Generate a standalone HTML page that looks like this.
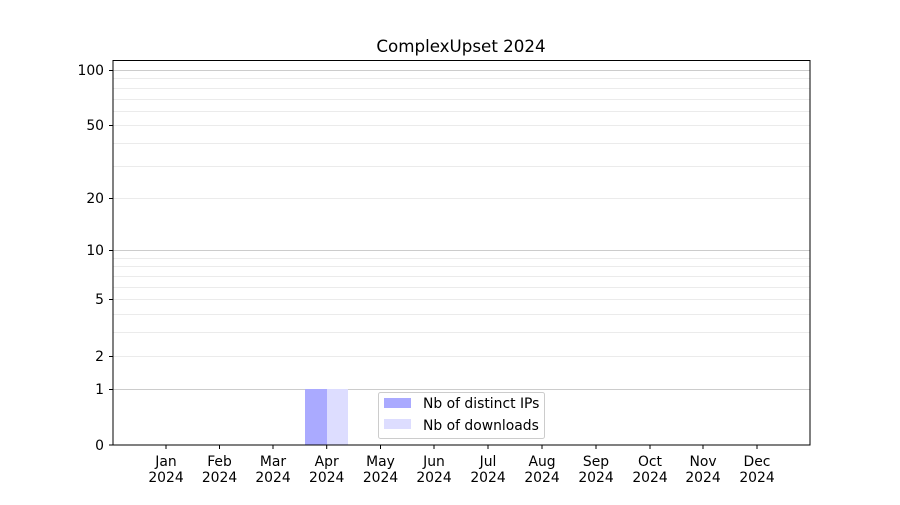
<!DOCTYPE html>
<html><head><meta charset="utf-8"><style>
body{margin:0;background:#fff}
svg text{font-family:"DejaVu Sans","Liberation Sans",sans-serif;font-size:13.9px;fill:#000}
svg text.title{font-size:16.7px}
</style></head><body>
<svg width="900" height="500" xmlns="http://www.w3.org/2000/svg">
<rect width="900" height="500" fill="#fff"/>
<text class="title" x="461" y="52" text-anchor="middle">ComplexUpset 2024</text>
<g stroke="#ebebeb" stroke-width="1">
<line x1="113" x2="810" y1="78.5" y2="78.5"/><line x1="113" x2="810" y1="88.5" y2="88.5"/>
<line x1="113" x2="810" y1="99.5" y2="99.5"/><line x1="113" x2="810" y1="111.5" y2="111.5"/>
<line x1="113" x2="810" y1="125.5" y2="125.5"/><line x1="113" x2="810" y1="143.5" y2="143.5"/>
<line x1="113" x2="810" y1="166.5" y2="166.5"/><line x1="113" x2="810" y1="198.5" y2="198.5"/>
<line x1="113" x2="810" y1="258.5" y2="258.5"/><line x1="113" x2="810" y1="266.5" y2="266.5"/>
<line x1="113" x2="810" y1="276.5" y2="276.5"/><line x1="113" x2="810" y1="287.5" y2="287.5"/>
<line x1="113" x2="810" y1="299.5" y2="299.5"/><line x1="113" x2="810" y1="314.5" y2="314.5"/>
<line x1="113" x2="810" y1="332.5" y2="332.5"/><line x1="113" x2="810" y1="356.5" y2="356.5"/>
</g>
<g stroke="#cccccc" stroke-width="1">
<line x1="113" x2="810" y1="70.5" y2="70.5"/><line x1="113" x2="810" y1="250.5" y2="250.5"/>
<line x1="113" x2="810" y1="389.5" y2="389.5"/>
</g>
<rect x="305" y="389" width="22" height="56" fill="#aaaaff"/>
<rect x="327" y="389" width="21" height="56" fill="#ddddff"/>
<rect x="113" y="60.5" width="697" height="384.5" fill="none" stroke="#000" stroke-width="1"/>
<g stroke="#000">
<line x1="109" x2="113" y1="70.5" y2="70.5"/><line x1="109" x2="113" y1="125.5" y2="125.5"/>
<line x1="109" x2="113" y1="198.5" y2="198.5"/><line x1="109" x2="113" y1="250.5" y2="250.5"/>
<line x1="109" x2="113" y1="299.5" y2="299.5"/><line x1="109" x2="113" y1="356.5" y2="356.5"/>
<line x1="109" x2="113" y1="389.5" y2="389.5"/><line x1="109" x2="113" y1="445" y2="445"/>
</g>
<g text-anchor="end">
<text x="104" y="75">100</text><text x="104" y="130">50</text><text x="104" y="203">20</text>
<text x="104" y="255">10</text><text x="104" y="304">5</text><text x="104" y="361">2</text>
<text x="104" y="394">1</text><text x="104" y="450">0</text>
</g>
<g id="months" text-anchor="middle"></g>
<g stroke="#000" id="xt"></g>
<rect x="378.5" y="392.5" width="166" height="46" rx="2" fill="#fff" fill-opacity="0.8" stroke="#cccccc"/>
<rect x="384" y="398" width="27" height="10" fill="#aaaaff"/>
<rect x="384" y="419" width="27" height="10" fill="#ddddff"/>
<text x="423" y="408">Nb of distinct IPs</text>
<text x="423" y="430">Nb of downloads</text>
<script>
var m=["Jan","Feb","Mar","Apr","May","Jun","Jul","Aug","Sep","Oct","Nov","Dec"];
var xs=[166,219.5,273,326.7,380.5,434,488,542,596,650,703,757];
var g=document.getElementById("months"),t=document.getElementById("xt"),ns="http://www.w3.org/2000/svg";
for(var i=0;i<12;i++){
var l=document.createElementNS(ns,"line");l.setAttribute("x1",xs[i]);l.setAttribute("x2",xs[i]);l.setAttribute("y1",445);l.setAttribute("y2",449);t.appendChild(l);
var a=document.createElementNS(ns,"text");a.setAttribute("x",xs[i]);a.setAttribute("y",466);a.textContent=m[i];g.appendChild(a);
var b=document.createElementNS(ns,"text");b.setAttribute("x",xs[i]);b.setAttribute("y",482);b.textContent="2024";g.appendChild(b);}
</script>
</svg>
</body></html>
